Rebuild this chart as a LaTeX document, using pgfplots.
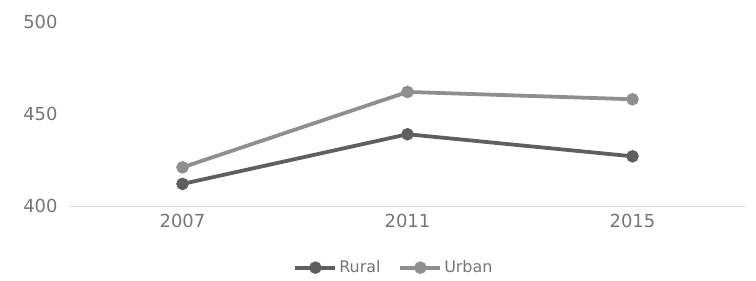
\documentclass[border=0pt]{standalone}
\usepackage{pgfplots}
\pgfplotsset{compat=1.18}
\usepackage{fontspec}
\setmainfont{DejaVu Sans}
\definecolor{rural}{HTML}{5F5F5F}
\definecolor{urban}{HTML}{8F8F8F}
\definecolor{tick}{HTML}{767676}
\definecolor{axl}{HTML}{D9D9D9}
\begin{document}
\begin{tikzpicture}
\begin{axis}[
  scale only axis,
  width=675bp, height=184bp,
  xmin=-0.5, xmax=2.5, ymin=400, ymax=500,
  xtick={0,1,2}, xticklabels={2007,2011,2015},
  ytick={400,450,500},
  /pgf/number format/assume math mode=true,
  axis line style={draw=none},
  axis x line*=bottom, axis y line*=left,
  extra y ticks={400}, extra y tick style={grid=major, major grid style={axl, line width=1pt}, yticklabel=\empty},
  major tick length=0pt,
  tick label style={font=\fontsize{18}{21}\selectfont, text=tick},
  yticklabel style={xshift=-9bp},
  xticklabel style={yshift=-5bp},
  legend style={draw=none, at={(0.48,-0.335)}, anchor=center, legend columns=2,
    font=\fontsize{16}{19}\selectfont, text=tick,
    /tikz/every even column/.append style={column sep=16bp}},
  legend image code/.code={\draw[mark repeat=2,mark phase=2] plot coordinates {(0bp,0bp)(20bp,0bp)(40bp,0bp)};},
  clip=false,
]
\addplot[rural, line width=3.8pt, mark=*, mark size=4.3pt, mark options={solid}] coordinates {(0,412) (1,439) (2,427)};
\addplot[urban, line width=3.8pt, mark=*, mark size=4.3pt, mark options={solid}] coordinates {(0,421) (1,462) (2,458)};
\legend{Rural, Urban}
\end{axis}
\path ([shift={(-70bp,-75bp)}]current axis.south west) rectangle ([shift={(11bp,22bp)}]current axis.north east);
\end{tikzpicture}
\end{document}
